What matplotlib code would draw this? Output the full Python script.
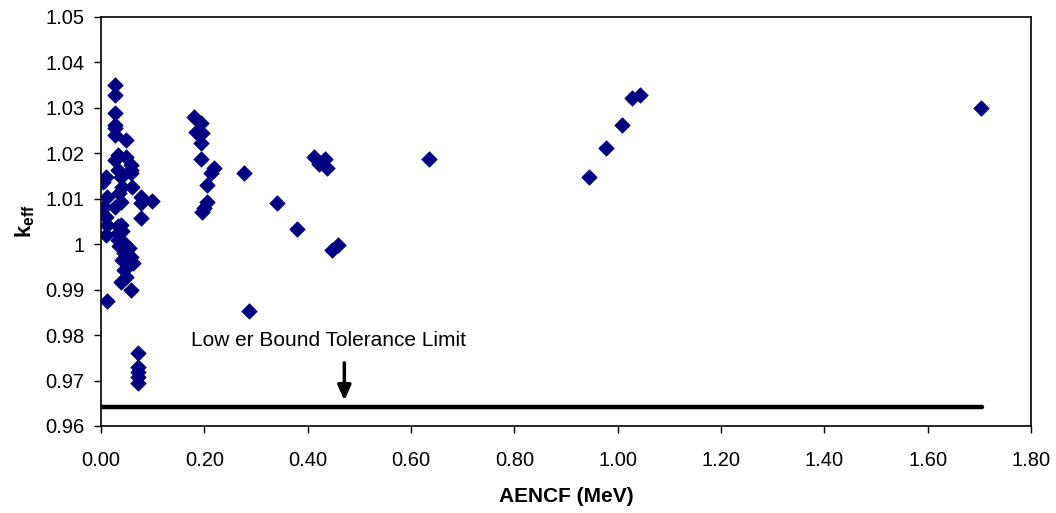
import matplotlib
matplotlib.use("Agg")
import matplotlib.pyplot as plt
import numpy as np

plt.rcParams['font.family'] = ['Liberation Sans', 'DejaVu Sans']
plt.rcParams['mathtext.fontset'] = 'custom'
plt.rcParams['mathtext.rm'] = 'Liberation Sans'
plt.rcParams['mathtext.bf'] = 'Liberation Sans:bold'

# AENCF (MeV) and k_eff values
aencf = [
    0.027, 0.027, 0.027, 0.027, 0.027, 0.027, 0.048, 0.032, 0.048, 0.028,
    0.058, 0.058, 0.032, 0.058, 0.009, 0.003, 0.038, 0.060, 0.041, 0.035,
    0.012, 0.077, 0.099, 0.038, 0.077, 0.006, 0.028, 0.077, 0.000, 0.009,
    0.012, 0.032, 0.038, 0.009, 0.032, 0.041, 0.032, 0.045, 0.035, 0.054,
    0.045, 0.058, 0.041, 0.051, 0.061, 0.045, 0.048, 0.038, 0.058, 0.011,
    0.071, 0.071, 0.071, 0.071, 0.071,
    0.180, 0.193, 0.183, 0.196, 0.193, 0.193, 0.219, 0.213, 0.205, 0.206,
    0.200, 0.196,
    0.276, 0.287, 0.340, 0.379, 0.413, 0.434, 0.422, 0.438, 0.448, 0.458,
    0.634, 0.944, 0.978, 1.009, 1.027, 1.044, 1.703,
]
keff = [
    1.0350, 1.0328, 1.0288, 1.0262, 1.0255, 1.0240, 1.0229, 1.0196, 1.0193, 1.0185,
    1.0174, 1.0163, 1.0163, 1.0156, 1.0149, 1.0138, 1.0149, 1.0127, 1.0127, 1.0112,
    1.0105, 1.0105, 1.0095, 1.0094, 1.0090, 1.0083, 1.0083, 1.0057, 1.0072, 1.0061,
    1.0042, 1.0039, 1.0042, 1.0020, 1.0024, 1.0028, 1.0009, 1.0002, 0.9995, 0.9991,
    0.9980, 0.9972, 0.9965, 0.9961, 0.9959, 0.9943, 0.9928, 0.9917, 0.9899, 0.9876,
    0.9760, 0.9730, 0.9719, 0.9708, 0.9695,
    1.0281, 1.0266, 1.0248, 1.0244, 1.0222, 1.0187, 1.0167, 1.0157, 1.0130, 1.0094,
    1.0079, 1.0072,
    1.0157, 0.9853, 1.0091, 1.0033, 1.0192, 1.0188, 1.0177, 1.0167, 0.9987, 0.9998,
    1.0188, 1.0148, 1.0212, 1.0262, 1.0322, 1.0328, 1.0300,
]

# Lower bound tolerance limit line
limit_x = [0.0, 1.705]
limit_y = [0.9642, 0.9642]
limit_label = "Low er Bound Tolerance Limit"

x_ticks = [0.0, 0.2, 0.4, 0.6, 0.8, 1.0, 1.2, 1.4, 1.6, 1.8]
y_ticks = [0.96, 0.97, 0.98, 0.99, 1.00, 1.01, 1.02, 1.03, 1.04, 1.05]
y_tick_labels = ["0.96", "0.97", "0.98", "0.99", "1", "1.01", "1.02", "1.03", "1.04", "1.05"]

fig = plt.figure(figsize=(10.56, 5.13), dpi=100)
ax = fig.add_axes([101/1056, 1 - 426/513, (1031 - 101)/1056, (426 - 17)/513])

ax.plot(limit_x, limit_y, color='black', linewidth=3.2, solid_capstyle='round', zorder=2)
ax.scatter(aencf, keff, marker='D', s=62, color='#000080', edgecolors='#000080',
           linewidths=0.5, zorder=3)

ax.annotate("", xy=(0.471, 0.9650), xytext=(0.471, 0.9745),
            arrowprops=dict(arrowstyle='-|>,head_length=0.9,head_width=0.4',
                            color='black', lw=2.5))
ax.text(0.174, 0.9789, limit_label, fontsize=15, va='center', ha='left')

ax.set_xlim(0, 1.8)
ax.set_ylim(0.96, 1.05)
ax.set_xticks(x_ticks)
ax.set_xticklabels([f"{v:.2f}" for v in x_ticks])
ax.set_yticks(y_ticks)
ax.set_yticklabels(y_tick_labels)
ax.tick_params(direction='out', length=5, width=1, labelsize=14.5)
ax.tick_params(axis='x', pad=13)
ax.tick_params(axis='y', pad=7)
for sp in ax.spines.values():
    sp.set_linewidth(1.2)

ax.set_xlabel("AENCF (MeV)", fontsize=15, fontweight='bold', labelpad=12)
ax.set_ylabel(r"$\mathbf{k}_{\mathbf{eff}}$", fontsize=16, labelpad=6)

fig.savefig("out.png", dpi=100)
